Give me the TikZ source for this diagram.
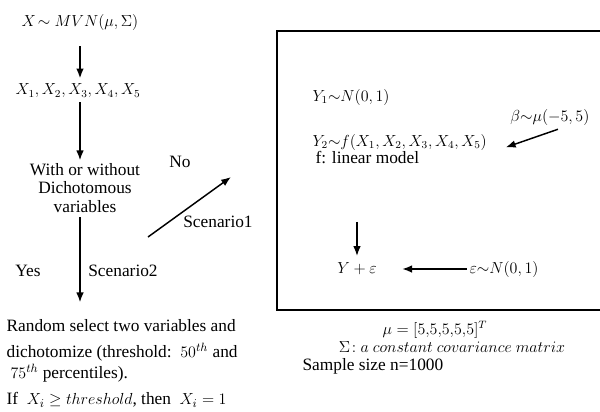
\documentclass[tikz,border=0pt]{standalone}
\usepackage{amsmath,amssymb}
\usepackage{fontspec}
\setmainfont{Liberation Serif}
\usepackage{tikz}
\usetikzlibrary{arrows.meta,positioning}
\tikzset{
  ar/.style={-{Latex[length=2.6mm,width=2mm]},line width=1.1pt,black},
  lbl/.style={inner sep=1pt,font=\rmfamily\fontsize{13pt}{14pt}\selectfont},
  mth/.style={inner sep=1pt,font=\fontsize{12pt}{14pt}\selectfont},
  blk/.style={lbl,anchor=west}
}
\begin{document}
\begin{tikzpicture}[x=0.75pt,y=-0.75pt]
\useasboundingbox (0,0) rectangle (600,411);
\clip (0,0) rectangle (600,411);
% left column
\node[mth] (mvn) at (80,22) {$X\!\sim MVN(\mu,\Sigma)$};
\node[mth] (xs) at (78,91) {$X_1,X_2,X_3,X_4,X_5$};
\node[lbl,align=center] (dich) at (85,188) {With or without\\Dichotomous\\variables};
\node[lbl] (no) at (180,162) {No};
\node[lbl] (sc1) at (218,222) {Scenario1};
\node[lbl] (yes) at (28,271) {Yes};
\node[lbl] (sc2) at (123,271) {Scenario2};
\node[blk] (r1) at (5,326) {Random select two variables and};
\node[blk] (r2) at (5,352) {dichotomize (threshold:\ \ $50^{th}$ and};
\node[blk] (r3) at (9,373) {$75^{th}$ percentiles).};
\node[blk] (r4) at (5,400) {If\ \ $X_i\geq threshold$, then\ \ $X_i=1$};
\coordinate (sc1s) at (148,237);
\coordinate (sc1e) at (231,177);
\draw[ar,shorten <=11pt,shorten >=3pt] (mvn) -- (mvn|-xs.north);
\draw[ar,shorten <=2pt,shorten >=1pt] (xs.south-|mvn) -- (dich.north-|mvn);
\draw[ar] (sc1s) -- (sc1e);
\draw[ar,shorten <=2pt,shorten >=12pt] (dich.south-|mvn) -- (r1.north-|mvn);
% model box
\draw[line width=1.1pt] (277,31) rectangle (620,310);
\node[mth,anchor=west] (y1) at (311,97) {$Y_1{\sim}N(0,1)$};
\node[mth,anchor=east] (beta) at (591,117) {$\beta{\sim}\mu(-5,5)$};
\node[mth,anchor=west] (y2) at (311,142) {$Y_2{\sim}f(X_1,X_2,X_3,X_4,X_5)$};
\node[blk] (lin) at (314,158) {f: linear model};
\node[mth] (yeps) at (357,269) {$Y+\varepsilon$};
\node[mth,anchor=west] (eps) at (468,269) {$\varepsilon{\sim}N(0,1)$};
\draw[ar] ([xshift=6pt,yshift=-2pt]beta.south) -- ([xshift=13pt,yshift=-4pt]y2.east);
\draw[ar,shorten <=42pt,shorten >=4pt] (lin.south-|yeps) -- (yeps.north);
\draw[ar,shorten <=1pt,shorten >=18pt] (eps.west) -- (yeps.east);
% settings below the box
\node[mth] (mu) at (435,330) {$\mu=[5{,}5{,}5{,}5{,}5]^T$};
\node[mth] (sig) at (452,347) {$\Sigma\!: a\ constant\ covariance\ matrix$};
\node[blk] (ss) at (301,366) {Sample size n=1000};
\end{tikzpicture}
\end{document}
